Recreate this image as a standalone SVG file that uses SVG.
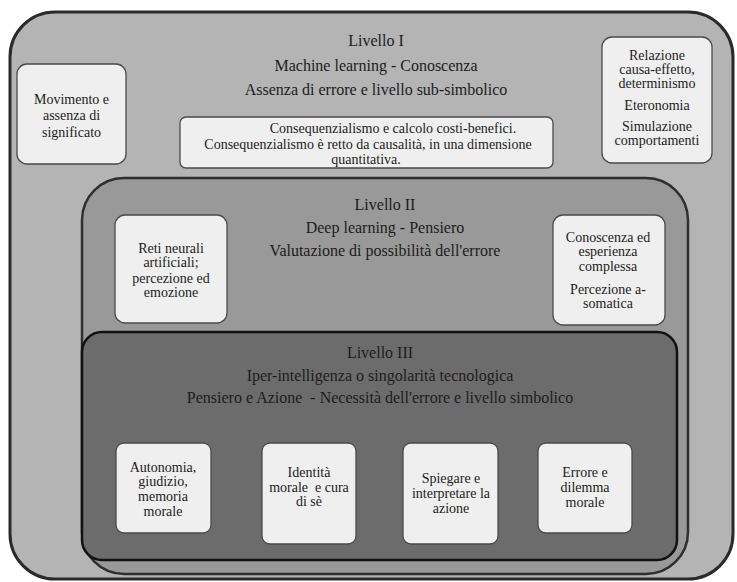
<svg xmlns="http://www.w3.org/2000/svg" width="737" height="582" viewBox="0 0 737 582">
  <style>
    text { font-family: "Liberation Serif", "DejaVu Serif", serif; fill: #1c1c1c; text-anchor: middle; }
    .title { font-size: 16px; }
    .item { font-size: 14px; }
    .card { fill: #efefef; stroke: #4a4a4a; stroke-width: 1.3; }
    .lvl1 { fill: #b4b4b4; stroke: #2a2a2a; stroke-width: 3; }
    .lvl2 { fill: #999999; stroke: #2e2e2e; stroke-width: 2.5; }
    .lvl3 { fill: #6c6c6c; stroke: #111111; stroke-width: 2.5; }
  </style>

  <!-- Level I -->
  <g id="livello-1">
    <rect class="lvl1" x="10" y="12" width="723" height="567" rx="45" ry="45"/>
    <text class="title" x="376" y="46">Livello I</text>
    <text class="title" x="376" y="71">Machine learning - Conoscenza</text>
    <text class="title" x="376" y="95">Assenza di errore e livello sub-simbolico</text>
  </g>

  <g id="movimento">
    <rect class="card" x="17" y="64" width="109" height="100" rx="10"/>
    <text class="item" x="71.5" y="104">Movimento e</text>
    <text class="item" x="71.5" y="120">assenza di</text>
    <text class="item" x="71.5" y="137">significato</text>
  </g>

  <g id="consequenzialismo">
    <rect class="card" x="180" y="117" width="373" height="51" rx="6"/>
    <text class="item" x="393" y="133">Consequenzialismo e calcolo costi-benefici.</text>
    <text class="item" x="368" y="149">Consequenzialismo è retto da causalità, in una dimensione</text>
    <text class="item" x="366" y="164">quantitativa.</text>
  </g>

  <g id="relazione">
    <rect class="card" x="602" y="37" width="110" height="126" rx="10"/>
    <text class="item" x="657" y="60">Relazione</text>
    <text class="item" x="657" y="74">causa-effetto,</text>
    <text class="item" x="657" y="88">determinismo</text>
    <text class="item" x="657" y="110">Eteronomia</text>
    <text class="item" x="657" y="131">Simulazione</text>
    <text class="item" x="657" y="145">comportamenti</text>
  </g>

  <!-- Level II -->
  <g id="livello-2">
    <rect class="lvl2" x="82" y="178" width="606" height="396" rx="42" ry="42"/>
    <text class="title" x="385" y="210">Livello II</text>
    <text class="title" x="385" y="233">Deep learning - Pensiero</text>
    <text class="title" x="385" y="256">Valutazione di possibilità dell'errore</text>
  </g>

  <g id="reti-neurali">
    <rect class="card" x="115" y="215" width="112" height="108" rx="10"/>
    <text class="item" x="171" y="253">Reti neurali</text>
    <text class="item" x="171" y="267">artificiali;</text>
    <text class="item" x="171" y="283">percezione ed</text>
    <text class="item" x="171" y="297">emozione</text>
  </g>

  <g id="conoscenza">
    <rect class="card" x="553" y="215" width="112" height="110" rx="10"/>
    <text class="item" x="608" y="242">Conoscenza ed</text>
    <text class="item" x="608" y="256">esperienza</text>
    <text class="item" x="608" y="271">complessa</text>
    <text class="item" x="608" y="294">Percezione a-</text>
    <text class="item" x="608" y="308">somatica</text>
  </g>

  <!-- Level III -->
  <g id="livello-3">
    <rect class="lvl3" x="82" y="332" width="595" height="228" rx="20" ry="20"/>
    <text class="title" x="380" y="358">Livello III</text>
    <text class="title" x="380" y="381">Iper-intelligenza o singolarità tecnologica</text>
    <text class="title" x="380" y="403" xml:space="preserve">Pensiero e Azione  - Necessità dell'errore e livello simbolico</text>
  </g>

  <g id="autonomia">
    <rect class="card" x="116" y="443" width="95" height="90" rx="8"/>
    <text class="item" x="163" y="472">Autonomia,</text>
    <text class="item" x="163" y="486">giudizio,</text>
    <text class="item" x="163" y="501">memoria</text>
    <text class="item" x="163" y="516">morale</text>
  </g>

  <g id="identita">
    <rect class="card" x="262" y="443" width="94" height="101" rx="8"/>
    <text class="item" x="309" y="477">Identità</text>
    <text class="item" x="309" y="492" xml:space="preserve">morale  e cura</text>
    <text class="item" x="309" y="506">di sè</text>
  </g>

  <g id="spiegare">
    <rect class="card" x="403" y="443" width="95" height="101" rx="8"/>
    <text class="item" x="451" y="483">Spiegare e</text>
    <text class="item" x="451" y="498">interpretare la</text>
    <text class="item" x="451" y="513">azione</text>
  </g>

  <g id="errore">
    <rect class="card" x="538" y="443" width="94" height="90" rx="8"/>
    <text class="item" x="585" y="477">Errore e</text>
    <text class="item" x="585" y="492">dilemma</text>
    <text class="item" x="585" y="507">morale</text>
  </g>

  <!-- no connectors in this figure: levels are nested containers -->
  <g id="connectors"/>
</svg>
